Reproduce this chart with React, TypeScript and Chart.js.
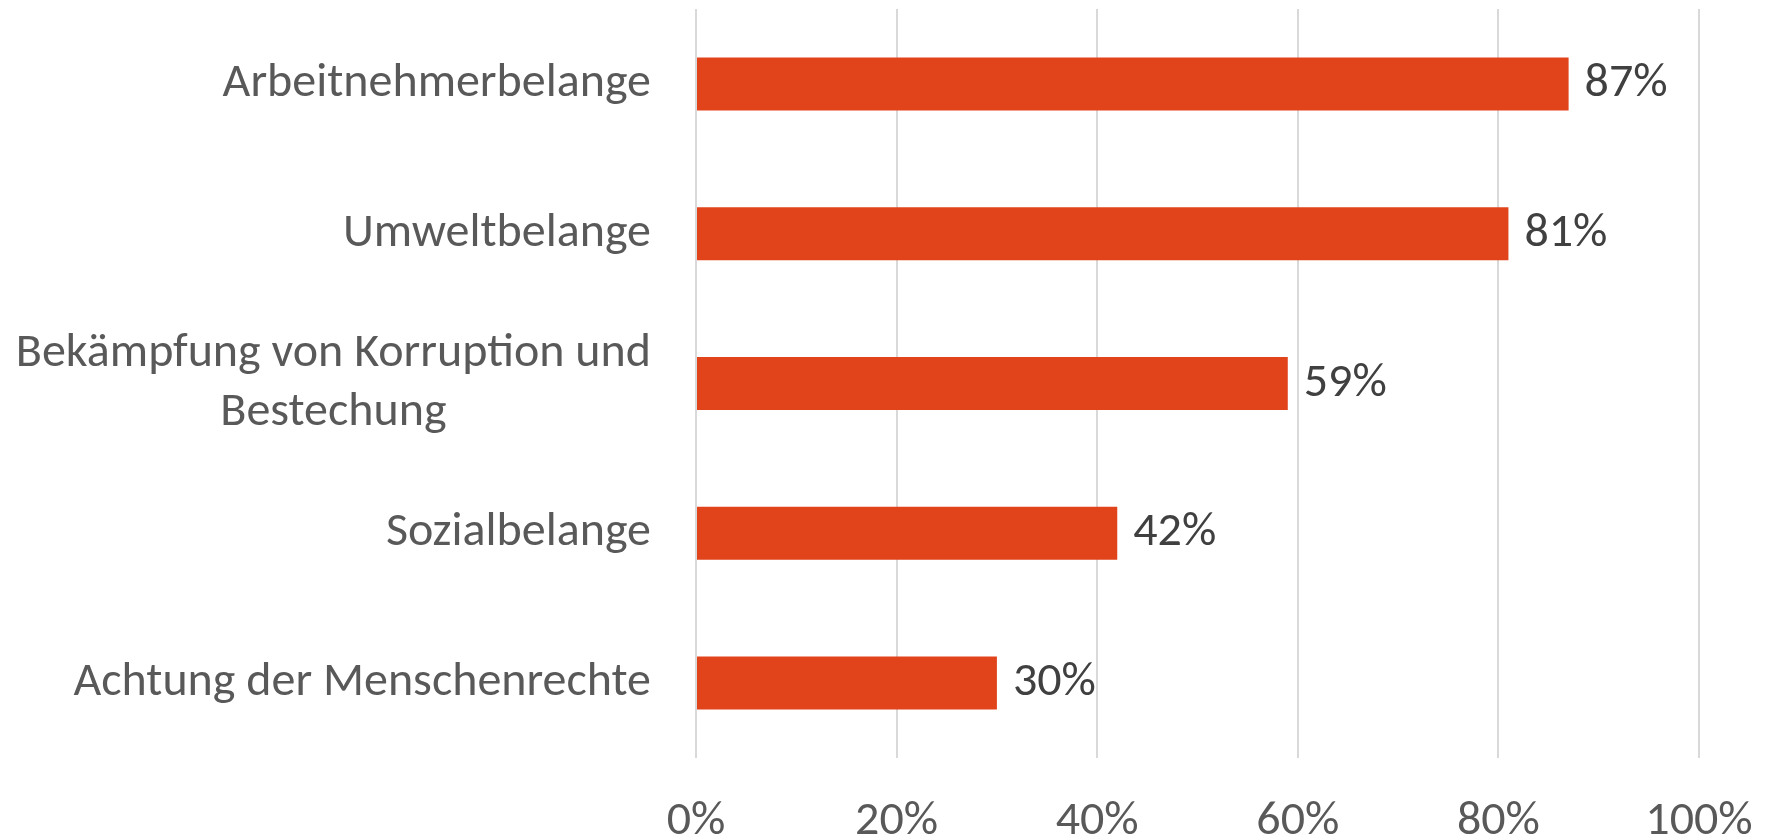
import React, { useEffect, useRef } from "react";
import { Chart, registerables } from "chart.js";

Chart.register(...registerables);

const categories: (string | string[])[] = [
  "Arbeitnehmerbelange",
  "Umweltbelange",
  ["Bekämpfung von Korruption und", "Bestechung"],
  "Sozialbelange",
  "Achtung der Menschenrechte",
];
const values = [87, 81, 59, 42, 30];
const xTickStep = 20;
const xMin = 0;
const xMax = 100;

const FONT_FAMILY = "Carlito, Calibri, Lato, sans-serif";
const FONT_SIZE = 48;
const BAR_COLOR = "#E1431B";
const AXIS_TEXT = "#595959";
const VALUE_TEXT = "#404040";
const GRID = "#D9D9D9";

const yLabelPlugin = {
  id: "yLabelPlugin",
  afterDraw(chart: any) {
    const ctx = chart.ctx;
    const yScale = chart.scales.y;
    const rightEdge = chart.chartArea.left - 45;
    const lh = 59;
    ctx.save();
    ctx.font = `${FONT_SIZE}px ${FONT_FAMILY}`;
    ctx.fillStyle = AXIS_TEXT;
    ctx.textBaseline = "middle";
    ctx.textAlign = "center";
    categories.forEach((lab, i) => {
      const lines = Array.isArray(lab) ? lab : [lab];
      const y = yScale.getPixelForTick(i);
      const maxW = Math.max(...lines.map((l) => ctx.measureText(l).width));
      const cx = rightEdge - maxW / 2;
      const startY = y - ((lines.length - 1) * lh) / 2;
      lines.forEach((l, j) => ctx.fillText(l, cx, startY + j * lh));
    });
    ctx.restore();
  },
};

const valueLabelPlugin = {
  id: "valueLabelPlugin",
  afterDatasetsDraw(chart: any) {
    const ctx = chart.ctx;
    const meta = chart.getDatasetMeta(0);
    ctx.save();
    ctx.font = `${FONT_SIZE}px ${FONT_FAMILY}`;
    ctx.fillStyle = VALUE_TEXT;
    ctx.textBaseline = "middle";
    ctx.textAlign = "left";
    meta.data.forEach((bar: any, i: number) => {
      ctx.fillText(`${values[i]}%`, bar.x + 16, bar.y);
    });
    ctx.restore();
  },
};

export default function App() {
  const ref = useRef<HTMLCanvasElement>(null);
  useEffect(() => {
    if (!ref.current) return;
    const chart = new Chart(ref.current, {
      type: "bar",
      data: {
        labels: categories as any,
        datasets: [
          {
            data: values,
            backgroundColor: BAR_COLOR,
            borderWidth: 0,
            barPercentage: 0.354,
            categoryPercentage: 1,
          },
        ],
      },
      options: {
        indexAxis: "y",
        animation: false,
        responsive: false,
        maintainAspectRatio: false,
        layout: { padding: { top: 9, right: 70, left: 0, bottom: 0 } },
        plugins: {
          legend: { display: false },
          tooltip: { enabled: false },
        },
        scales: {
          x: {
            min: xMin,
            max: xMax,
            ticks: {
              stepSize: xTickStep,
              color: AXIS_TEXT,
              font: { family: FONT_FAMILY, size: FONT_SIZE },
              padding: 35,
              maxRotation: 0,
              callback: (v: any) => `${v}%`,
            },
            grid: { color: GRID, lineWidth: 2, drawTicks: false },
            border: { display: false },
            afterFit: (scale: any) => {
              scale.height = 80;
              scale.paddingLeft = 0;
              scale.paddingRight = 0;
            },
          },
          y: {
            ticks: { display: false },
            grid: { display: false },
            border: { display: false },
            afterFit: (scale: any) => {
              scale.width = 696;
              scale.paddingTop = 0;
              scale.paddingBottom = 0;
            },
          },
        },
      },
      plugins: [yLabelPlugin, valueLabelPlugin],
    });
    return () => chart.destroy();
  }, []);
  return (
    <div style={{ position: "fixed", left: 0, top: 0, width: 1769, height: 838, background: "#fff" }}>
      <canvas ref={ref} width={1769} height={838} style={{ width: 1769, height: 838 }} />
    </div>
  );
}
